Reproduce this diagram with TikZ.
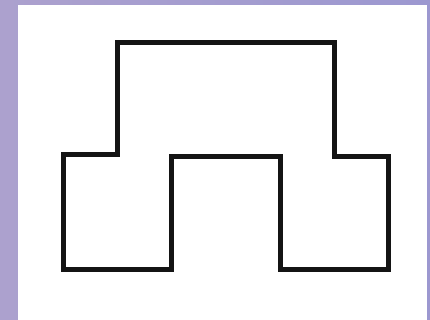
\documentclass[tikz,border=0pt]{standalone}
\definecolor{bgleft}{RGB}{172,161,206}
\definecolor{bgright}{RGB}{156,152,208}
\tikzset{outline/.style={line width=5pt, draw=black!92, line join=miter}}
\begin{document}
\begin{tikzpicture}[x=1pt,y=-1pt]
\useasboundingbox (0,0) rectangle (430,320);
\shade[left color=bgleft, right color=bgright] (0,0) rectangle (430,320);
\fill[white] (18,5) rectangle (427,320);
\coordinate (a) at (63,155);
\coordinate (b) at (117,155);
\coordinate (c) at (117,43);
\coordinate (d) at (334,43);
\coordinate (e) at (334,157);
\coordinate (f) at (388,157);
\coordinate (g) at (388,269);
\coordinate (h) at (280,269);
\coordinate (i) at (280,157);
\coordinate (j) at (171,157);
\coordinate (k) at (171,269);
\coordinate (l) at (63,269);
\draw[outline] (a) -- (b) -- (c) -- (d) -- (e) -- (f) -- (g) -- (h) -- (i) -- (j) -- (k) -- (l) -- cycle;
\end{tikzpicture}
\end{document}
